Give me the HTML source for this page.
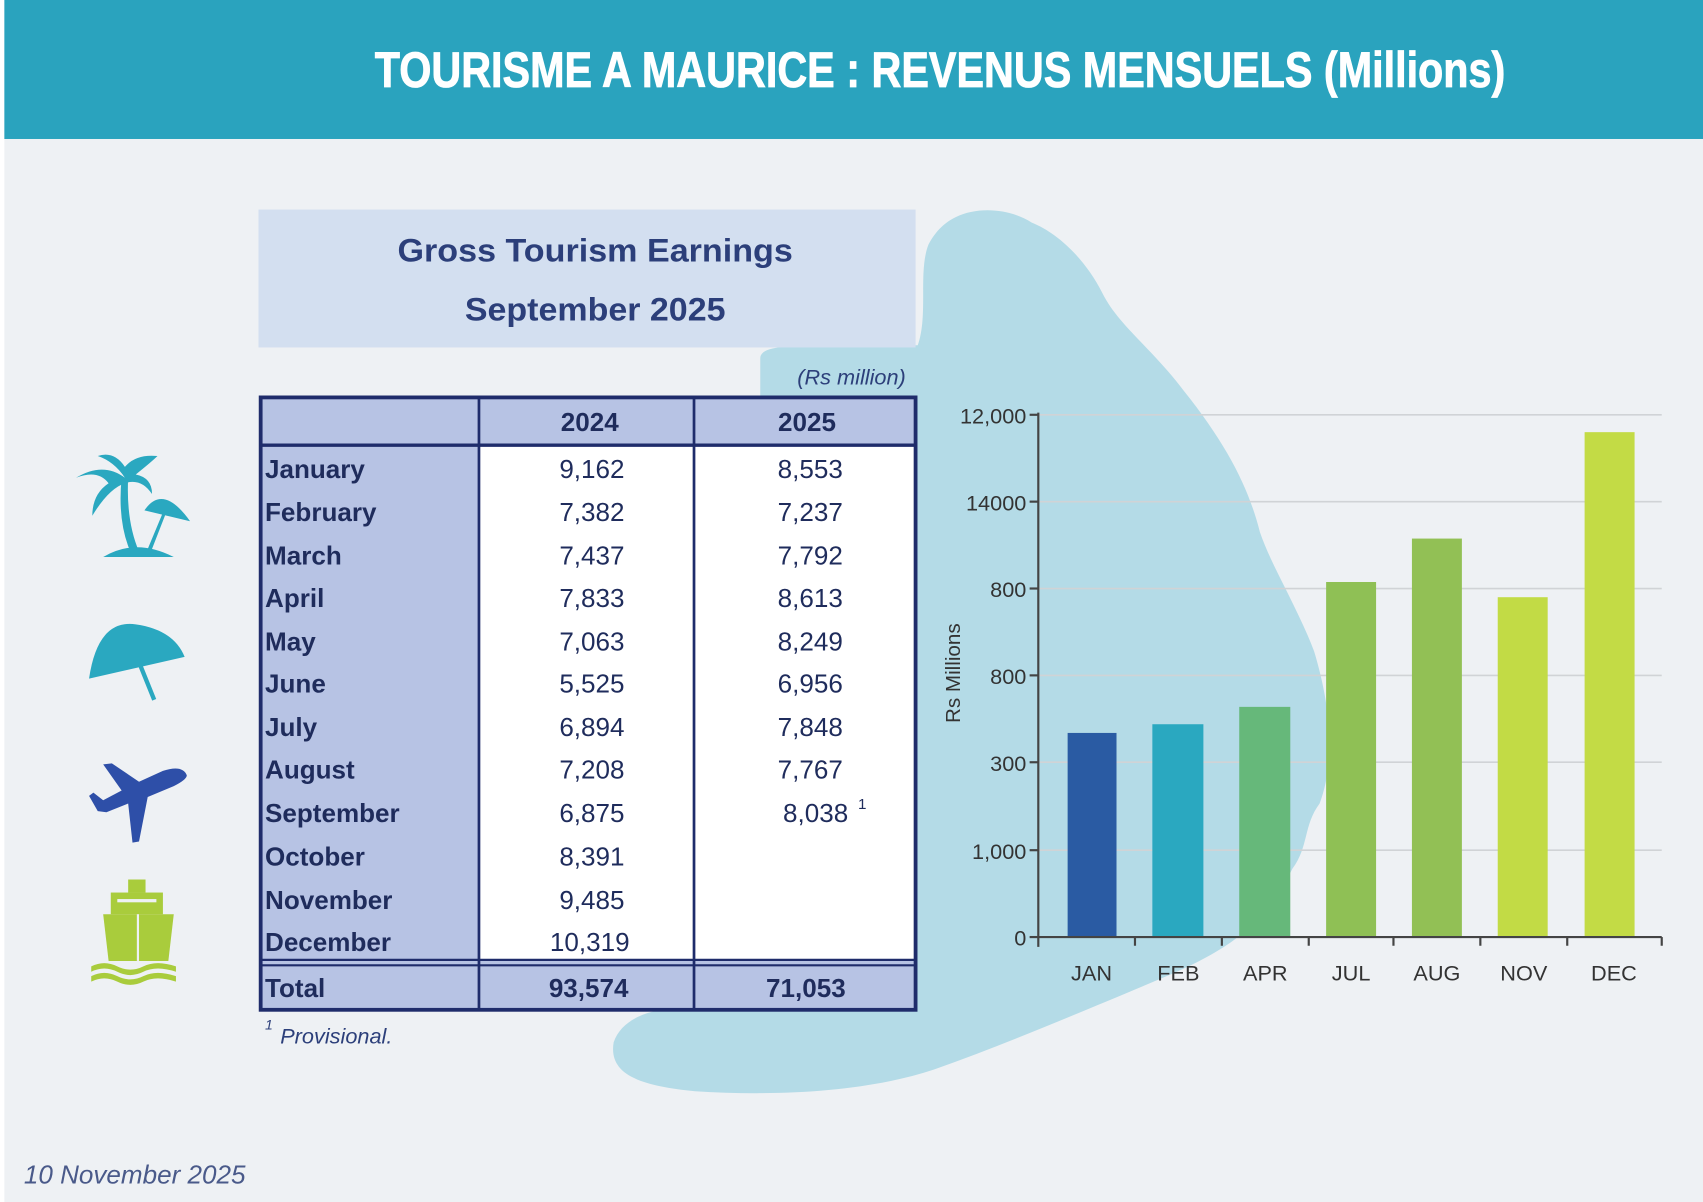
<!DOCTYPE html>
<html><head><meta charset="utf-8"><style>html,body{margin:0;padding:0;background:#eef1f4;}svg{display:block}</style></head>
<body>
<svg width="1703" height="1202" viewBox="0 0 1568 1107" preserveAspectRatio="none" xmlns="http://www.w3.org/2000/svg" font-family="Liberation Sans, sans-serif">
<rect width="1568" height="1107" fill="#eef1f4"/>
<rect x="0" y="0" width="1568" height="128" fill="#2aa3be"/>
<rect x="0" y="0" width="4" height="1107" fill="#ffffff"/>
<text x="345" y="80" font-size="46" font-weight="bold" fill="#ffffff" stroke="#ffffff" stroke-width="0.8" textLength="1041" lengthAdjust="spacingAndGlyphs">TOURISME A MAURICE : REVENUS MENSUELS (Millions)</text>
<path d="M880,200 C900,190 930,192 950,205 C975,215 1000,240 1015,270 C1030,300 1060,320 1090,360 C1130,410 1150,450 1160,490 C1170,520 1195,560 1210,600 C1225,650 1230,700 1215,740 C1200,760 1205,780 1190,800 C1160,860 1120,880 1060,905 C1000,930 930,960 860,985 C800,1005 720,1010 640,1005 C590,1000 560,990 565,960 C575,930 620,925 650,930 L700,925 L700,330 C700,320 720,318 760,318 L845,318 C855,290 845,250 855,225 C862,212 870,205 880,200 Z" fill="#a9d7e4" opacity="0.85"/>
<rect x="238" y="193" width="605" height="127" fill="#d3dff0"/>
<text x="548" y="241" text-anchor="middle" font-size="30" font-weight="bold" fill="#2c3f7a" textLength="364" lengthAdjust="spacingAndGlyphs">Gross Tourism Earnings</text>
<text x="548" y="295" text-anchor="middle" font-size="30" font-weight="bold" fill="#2c3f7a" textLength="240" lengthAdjust="spacingAndGlyphs">September 2025</text>
<text x="834" y="354" text-anchor="end" font-size="20" font-style="italic" fill="#2c3f7a">(Rs million)</text>
<rect x="240" y="366" width="603" height="564" fill="#b7c3e4"/>
<rect x="441" y="410" width="402" height="475" fill="#ffffff"/>
<g stroke="#1f2c6b" fill="none">
<rect x="240" y="366" width="603" height="564" stroke-width="3.5"/>
<line x1="240" y1="410" x2="843" y2="410" stroke-width="3"/>
<line x1="441" y1="366" x2="441" y2="930" stroke-width="2.5"/>
<line x1="639" y1="366" x2="639" y2="930" stroke-width="2.5"/>
<line x1="240" y1="884" x2="843" y2="884" stroke-width="2"/>
<line x1="240" y1="889" x2="843" y2="889" stroke-width="2"/>
</g>
<g font-size="24" fill="#1f2c5c">
<text x="543" y="397" text-anchor="middle" font-weight="bold">2024</text>
<text x="743" y="397" text-anchor="middle" font-weight="bold">2025</text>
<g font-weight="bold">
<text x="244" y="440">January</text><text x="244" y="480">February</text><text x="244" y="520">March</text><text x="244" y="559">April</text><text x="244" y="599">May</text><text x="244" y="638">June</text><text x="244" y="678">July</text><text x="244" y="717">August</text><text x="244" y="757">September</text><text x="244" y="797">October</text><text x="244" y="837">November</text><text x="244" y="876">December</text><text x="244" y="918">Total</text>
</g>
<g text-anchor="middle">
<text x="545" y="440">9,162</text><text x="545" y="480">7,382</text><text x="545" y="520">7,437</text><text x="545" y="559">7,833</text><text x="545" y="599">7,063</text><text x="545" y="638">5,525</text><text x="545" y="678">6,894</text><text x="545" y="717">7,208</text><text x="545" y="757">6,875</text><text x="545" y="797">8,391</text><text x="545" y="837">9,485</text><text x="543" y="876">10,319</text>
<text x="746" y="440">8,553</text><text x="746" y="480">7,237</text><text x="746" y="520">7,792</text><text x="746" y="559">8,613</text><text x="746" y="599">8,249</text><text x="746" y="638">6,956</text><text x="746" y="678">7,848</text><text x="746" y="717">7,767</text><text x="751" y="757">8,038</text>
<text x="542" y="918" font-weight="bold">93,574</text><text x="742" y="918" font-weight="bold">71,053</text>
</g>
<text x="790" y="745" font-size="14">1</text>
</g>
<text x="244" y="948" font-size="13" font-style="italic" fill="#2c3f7a">1</text>
<text x="258" y="961" font-size="20" font-style="italic" fill="#2c3f7a">Provisional.</text>
<text x="22" y="1090" font-size="24" font-style="italic" fill="#4a5a8a">10 November 2025</text>
<g fill="#2aa8c0">
<path d="M95,513 Q125,495 160,513 Z"/>
<path d="M112,440 Q108,480 120,508 L128,508 Q116,480 118,440 Z"/>
<path d="M115,440 Q95,425 70,440 Q90,432 100,445 Q85,455 85,475 Q100,450 115,445 Q130,440 140,455 Q140,440 125,437 Q140,425 145,420 Q125,418 115,430 Q105,415 90,420 Q105,425 115,440Z"/>
<path d="M133,470 Q150,445 175,480 Z"/>
<path d="M150,472 L135,508 L139,508 L153,472Z"/>
</g>
<g fill="#2aa8c0">
<path d="M82,625 Q90,570 125,575 Q160,580 170,605 Z"/>
<rect x="122" y="600" width="4" height="48" transform="rotate(-22 124 600)"/>
</g>
<path d="M172,714 Q168,704 150,710 L128,720 L103,703 L95,704 L112,728 L95,737 L86,730 L82,733 L90,747 L98,748 L118,740 L122,776 L128,775 L136,734 L160,724 Q172,718 172,714Z" fill="#2e4fa8"/>
<g fill="#a9cc3c">
<rect x="118" y="810" width="16" height="12"/>
<rect x="102" y="822" width="48" height="20"/>
<path d="M95,842 L160,842 L155,885 L100,885Z"/>
<path d="M84,890 Q96,884 108,890 Q120,896 132,890 Q144,884 162,890 L162,895 Q144,889 132,895 Q120,901 108,895 Q96,889 84,895Z"/>
<path d="M84,899 Q96,893 108,899 Q120,905 132,899 Q144,893 162,899 L162,904 Q144,898 132,904 Q120,910 108,904 Q96,898 84,904Z"/>
</g>
<rect x="108" y="828" width="36" height="3" fill="#eef1f4"/>
<line x1="127" y1="842" x2="127" y2="885" stroke="#eef1f4" stroke-width="2"/>
<g stroke="#d0d3d6" stroke-width="1.5">
<line x1="956" y1="382" x2="1530" y2="382"/><line x1="956" y1="462" x2="1530" y2="462"/><line x1="956" y1="542" x2="1530" y2="542"/><line x1="956" y1="622" x2="1530" y2="622"/><line x1="956" y1="702" x2="1530" y2="702"/><line x1="956" y1="783" x2="1530" y2="783"/>
</g>
<rect x="983" y="675" width="45" height="188" fill="#2a5ba3"/>
<rect x="1061" y="667" width="47" height="196" fill="#2aa8c0"/>
<rect x="1141" y="651" width="47" height="212" fill="#66b87a"/>
<rect x="1221" y="536" width="46" height="327" fill="#8fc055"/>
<rect x="1300" y="496" width="46" height="367" fill="#92c055"/>
<rect x="1379" y="550" width="46" height="313" fill="#c2db45"/>
<rect x="1459" y="398" width="46" height="465" fill="#c3db45"/>
<g stroke="#444" stroke-width="2">
<line x1="956" y1="380" x2="956" y2="872"/>
<line x1="956" y1="863" x2="1530" y2="863"/>
<line x1="948" y1="382" x2="956" y2="382"/><line x1="948" y1="462" x2="956" y2="462"/><line x1="948" y1="542" x2="956" y2="542"/><line x1="948" y1="622" x2="956" y2="622"/><line x1="948" y1="702" x2="956" y2="702"/><line x1="948" y1="783" x2="956" y2="783"/><line x1="948" y1="863" x2="956" y2="863"/>
<line x1="1045" y1="863" x2="1045" y2="871"/><line x1="1125" y1="863" x2="1125" y2="871"/><line x1="1205" y1="863" x2="1205" y2="871"/><line x1="1283" y1="863" x2="1283" y2="871"/><line x1="1363" y1="863" x2="1363" y2="871"/><line x1="1443" y1="863" x2="1443" y2="871"/><line x1="1530" y1="863" x2="1530" y2="871"/>
</g>
<g font-size="20" fill="#333" text-anchor="end">
<text x="945" y="390">12,000</text><text x="945" y="470">14000</text><text x="945" y="550">800</text><text x="945" y="630">800</text><text x="945" y="710">300</text><text x="945" y="791">1,000</text><text x="945" y="871">0</text>
</g>
<g font-size="20" fill="#333" text-anchor="middle">
<text x="1005" y="903">JAN</text><text x="1085" y="903">FEB</text><text x="1165" y="903">APR</text><text x="1244" y="903">JUL</text><text x="1323" y="903">AUG</text><text x="1403" y="903">NOV</text><text x="1486" y="903">DEC</text>
</g>
<text transform="translate(884,620) rotate(-90)" text-anchor="middle" font-size="19" fill="#333">Rs Millions</text>
</svg>
</body></html>
